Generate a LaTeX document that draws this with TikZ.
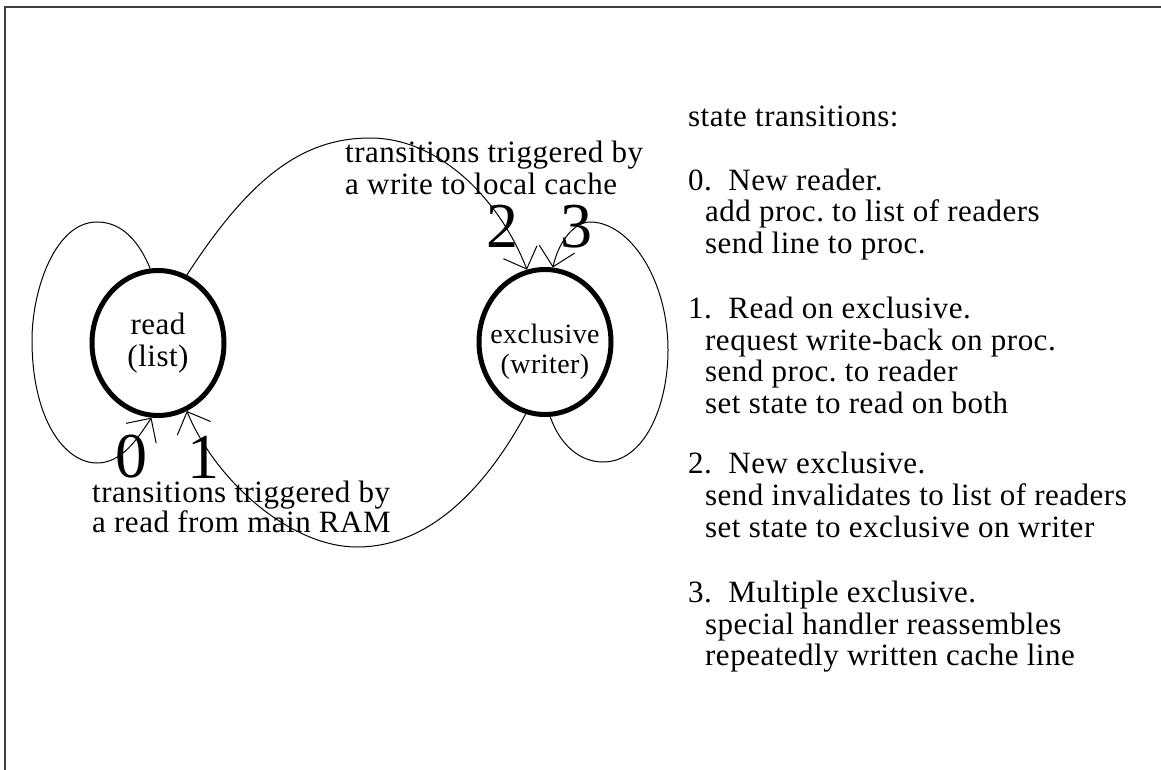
\documentclass[tikz,border=0pt]{standalone}
\usepackage{fontspec}
\setmainfont{Liberation Serif}[LetterSpace=1.6]
\usetikzlibrary{arrows.meta,shapes.geometric}

\tikzset{
  statenode/.style={ellipse, draw, line width=5pt, inner sep=0pt,
    minimum width=132pt, minimum height=145pt, align=center,
    font=\fontsize{31}{31.5}\selectfont},
  txt/.style={anchor=base west, inner sep=0pt, text height=22pt, text depth=7pt,
    font=\fontsize{31}{31.5}\selectfont},
  digit/.style={inner sep=0pt, text height=43pt, text depth=0pt,
    font=\fontsize{64}{64}\selectfont},
  edge/.style={line width=1pt, -{Straight Barb[length=18pt,width=36pt,line width=1pt]}},
  frame/.style={line width=1.6pt, black!75}
}

\begin{document}
\frenchspacing
\begin{tikzpicture}[x=1pt,y=-1pt]
  \useasboundingbox (0,0) rectangle (1161,770);

  % page frame (top and left edges)
  \draw[frame] (5,770) -- (5,7) -- (1161,7);

  % the two states
  \node[statenode] (read) at (158,343) {read\\(list)};
  \node[statenode,
    label={[align=center, yshift=-10pt, font=\fontsize{28}{30}\selectfont]center:exclusive\\(writer)}]
    (excl) at (545,342) {};

  % 0: new reader (self loop on read)
  \draw[edge] (read.96) .. controls (135,232) and (115,222) .. (97,222)
    .. controls (55,222) and (32,290) .. (32,340)
    .. controls (32,420) and (65,463) .. (97,463)
    .. controls (122,463) and (138,438) .. (read.265);

  % 1: read on exclusive
  \draw[edge] (excl.255) .. controls (486,487) and (430,547) .. (357,547)
    .. controls (290,547) and (215,480) .. (read.293);

  % 2: new exclusive
  \draw[edge] (read.67) .. controls (248,181) and (300,138) .. (370,138)
    .. controls (440,138) and (500,200) .. (excl.104);

  % 3: multiple exclusive (self loop on exclusive)
  \draw[edge] (excl.274) .. controls (560,445) and (580,462) .. (603,462)
    .. controls (645,462) and (668,405) .. (668,350)
    .. controls (668,280) and (630,222) .. (590,222)
    .. controls (575,222) and (559,240) .. (excl.84);

  % transition numbers
  \node[digit] (n0) at (131,456) {0};
  \node[digit] (n1) at (203,457) {1};
  \node[digit] (n2) at (502,226) {2};
  \node[digit] (n3) at (576,226) {3};

  % captions
  \node[txt] (wa) at (345,163) {transitions triggered by};
  \node[txt] (wb) at (345,195) {a write to local cache};
  \node[txt] (ra) at (92,502) {transitions triggered by};
  \node[txt] (rb) at (92,532) {a read from main RAM};

  % legend
  \node[txt] (lh) at (688,127) {state transitions:};
  \node[txt] (l0) at (688,190) {0.\ \ New reader.};
  \node[txt] (l0a) at (705,222) {add proc. to list of readers};
  \node[txt] (l0b) at (705,253) {send line to proc.};
  \node[txt] (l1) at (688,318) {1.\ \ Read on exclusive.};
  \node[txt] (l1a) at (705,350) {request write-back on proc.};
  \node[txt] (l1b) at (705,381) {send proc. to reader};
  \node[txt] (l1c) at (705,413) {set state to read on both};
  \node[txt] (l2) at (688,473) {2.\ \ New exclusive.};
  \node[txt] (l2a) at (705,505) {send invalidates to list of readers};
  \node[txt] (l2b) at (705,537) {set state to exclusive on writer};
  \node[txt] (l3) at (688,602) {3.\ \ Multiple exclusive.};
  \node[txt] (l3a) at (705,634) {special handler reassembles};
  \node[txt] (l3b) at (705,665) {repeatedly written cache line};
\end{tikzpicture}
\end{document}
